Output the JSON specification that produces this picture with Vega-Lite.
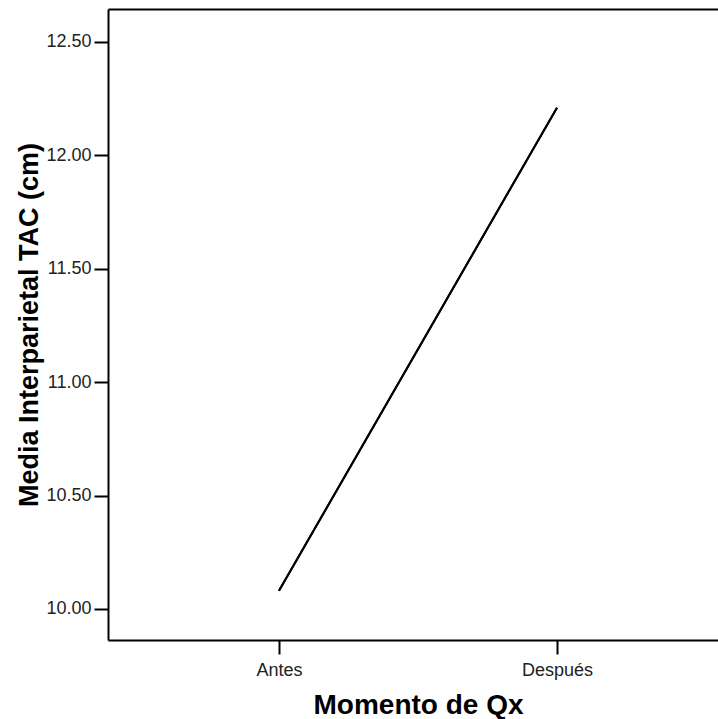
{
  "$schema": "https://vega.github.io/schema/vega-lite/v6.json",
  "width": 610,
  "height": 631,
  "autosize": "none",
  "padding": {"left": 108, "top": 9, "right": 0, "bottom": 79},
  "background": "white",
  "data": {"values": [
    {"momento": "Antes", "media": 10.08},
    {"momento": "Después", "media": 12.21}
  ]},
  "config": {
    "view": {"stroke": null},
    "axis": {"domainColor": "black", "domainWidth": 2, "tickColor": "black", "tickWidth": 2, "grid": false,
      "labelFont": "Liberation Sans", "labelColor": "#222", "titleFont": "Liberation Sans", "titleFontWeight": "bold", "titleColor": "black"}
  },
  "layer": [
    {
      "mark": {"type": "line", "color": "black", "strokeWidth": 2},
      "encoding": {
        "x": {"field": "momento", "type": "ordinal", "sort": ["Antes", "Después"],
          "scale": {"type": "point", "padding": 0.597, "align": 0.515},
          "axis": {"title": "Momento de Qx", "labelAngle": 0, "labelFontSize": 18, "titleFontSize": 28, "tickSize": 14, "labelPadding": 7, "titlePadding": 12, "titleX": 310}},
        "y": {"field": "media", "type": "quantitative",
          "scale": {"domain": [9.863, 12.645], "nice": false, "zero": false},
          "axis": {"title": "Media Interparietal TAC (cm)", "values": [10, 10.5, 11, 11.5, 12, 12.5], "format": ".2f", "labelFontSize": 18, "titleFontSize": 27, "tickSize": 14, "labelPadding": 3, "titlePadding": 2}}
      }
    },
    {
      "mark": {"type": "line", "color": "black", "strokeWidth": 2},
      "encoding": {
        "x": {"field": "momento", "type": "ordinal", "sort": ["Antes", "Después"],
          "scale": {"type": "point", "padding": 0.597, "align": 0.515},
          "axis": {"orient": "top", "title": null, "labels": false, "ticks": false}},
        "y": {"field": "media", "type": "quantitative"}
      }
    }
  ],
  "resolve": {"axis": {"x": "independent"}}
}
